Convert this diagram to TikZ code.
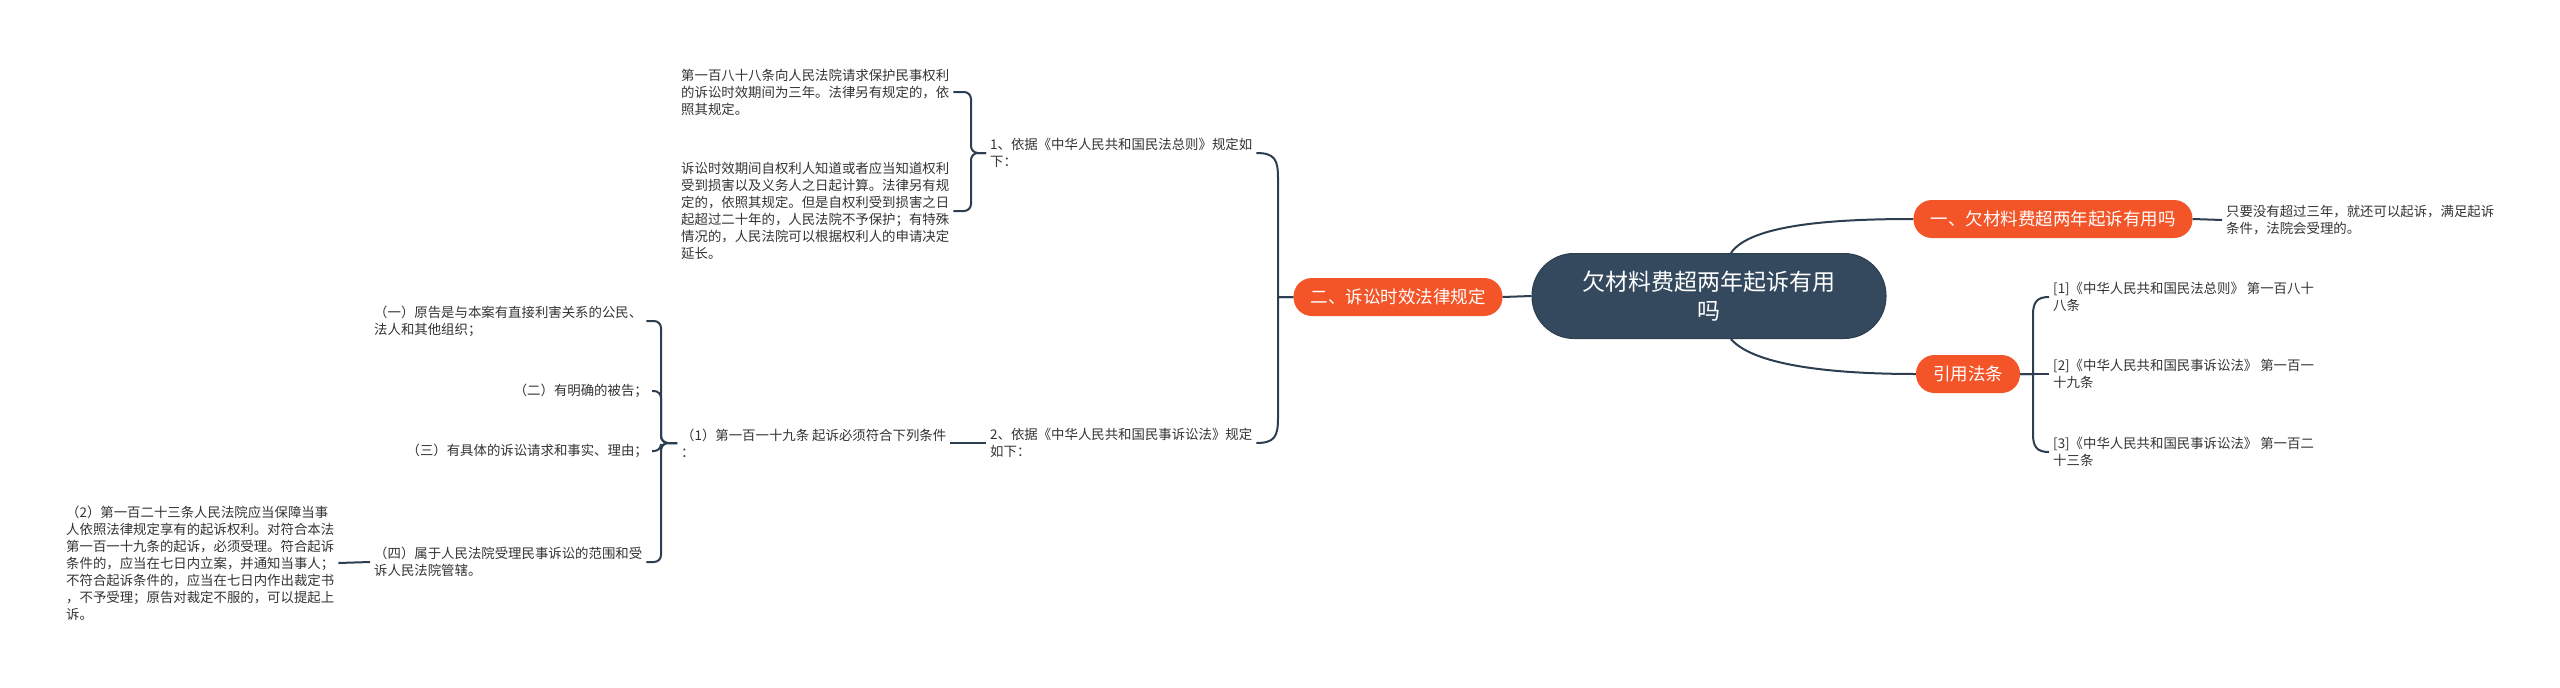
\documentclass[tikz,border=0pt]{standalone}
\usepackage{fontspec}
\setmainfont{Noto Sans CJK SC}
\definecolor{linec}{HTML}{2C3E50}
\definecolor{rootc}{HTML}{34495E}
\definecolor{orangec}{RGB}{243,84,40}
\definecolor{textc}{HTML}{333333}
\tikzset{
  conn/.style={draw=linec, line width=2pt},
  txt/.style={text=textc, align=left, inner xsep=4pt, inner ysep=2pt, font=\fontsize{13.4}{17}\selectfont},
  txtr/.style={txt, align=right},
  obox/.style={fill=orangec, text=white, rounded corners=18.5pt, minimum height=38pt, inner xsep=17pt, font=\fontsize{17.5}{21}\selectfont},
  rootbox/.style={fill=rootc, draw=linec, line width=1pt, text=white, rounded corners=42pt, minimum width=354pt, minimum height=85pt, align=center, font=\fontsize{23}{29}\selectfont}
}
\begin{document}
\begin{tikzpicture}[x=1pt,y=-1pt]
\useasboundingbox (0,0) rectangle (2560,688);
% main nodes
\node[rootbox] (root) at (1709,296) {欠材料费超两年起诉有用\\吗};
\node[obox] (n1) at (2053,219) {一、欠材料费超两年起诉有用吗};
\node[obox] (n2) at (1398,297) {二、诉讼时效法律规定};
\node[obox] (n3) at (1968,374) {引用法条};
% right side
\node[txt, anchor=west] (n1a) at (2222,220) {只要没有超过三年，就还可以起诉，满足起诉\\条件，法院会受理的。};
\node[txt, anchor=west] (r1) at (2049,297) {[1]《中华人民共和国民法总则》 第一百八十\\八条};
\node[txt, anchor=west] (r2) at (2049,374) {[2]《中华人民共和国民事诉讼法》 第一百一\\十九条};
\node[txt, anchor=west] (r3) at (2049,452) {[3]《中华人民共和国民事诉讼法》 第一百二\\十三条};
% left side
\node[txt, anchor=west] (L1) at (986,153) {1、依据《中华人民共和国民法总则》规定如\\下：};
\node[txt, anchor=west] (L2) at (986,443) {2、依据《中华人民共和国民事诉讼法》规定\\如下：};
\node[txt, anchor=west] (A) at (677,92) {第一百八十八条向人民法院请求保护民事权利\\的诉讼时效期间为三年。法律另有规定的，依\\照其规定。};
\node[txt, anchor=west] (B) at (677,211) {诉讼时效期间自权利人知道或者应当知道权利\\受到损害以及义务人之日起计算。法律另有规\\定的，依照其规定。但是自权利受到损害之日\\起超过二十年的，人民法院不予保护；有特殊\\情况的，人民法院可以根据权利人的申请决定\\延长。};
\node[txt, anchor=west] (S1) at (677,443) {（1）第一百一十九条 起诉必须符合下列条件\\：};
\node[txt, anchor=west] (C1) at (370,321) {（一）原告是与本案有直接利害关系的公民、\\法人和其他组织；};
\node[txtr, anchor=east] (C2) at (652,391) {（二）有明确的被告；};
\node[txtr, anchor=east] (C3) at (652,451) {（三）有具体的诉讼请求和事实、理由；};
\node[txt, anchor=west] (C4) at (370,562) {（四）属于人民法院受理民事诉讼的范围和受\\诉人民法院管辖。};
\node[txt, anchor=west] (D) at (62,563) {（2）第一百二十三条人民法院应当保障当事\\人依照法律规定享有的起诉权利。对符合本法\\第一百一十九条的起诉，必须受理。符合起诉\\条件的，应当在七日内立案，并通知当事人；\\不符合起诉条件的，应当在七日内作出裁定书\\，不予受理；原告对裁定不服的，可以提起上\\诉。};
% connectors
\draw[conn] (root.63) .. controls (1750,225) and (1830,219) .. (n1.west);
\draw[conn] (root.-63) .. controls (1755,367) and (1840,374) .. (n3.west);
\draw[conn] (root.west) -- (n2.east);
\draw[conn] (n1.east) -- (n1a.west);
\draw[conn] (n3.east) -- (2033,374) -- (2033,315) .. controls (2033,302) and (2037,297) .. (r1.west);
\draw[conn] (n3.east) -- (r2.west);
\draw[conn] (n3.east) -- (2033,374) -- (2033,434) .. controls (2033,447) and (2037,452) .. (r3.west);
\draw[conn] (n2.west) -- (1278,297) -- (1278,178) .. controls (1278,160) and (1275,153) .. (L1.east);
\draw[conn] (n2.west) -- (1278,297) -- (1278,418) .. controls (1278,436) and (1275,443) .. (L2.east);
\draw[conn, rounded corners=7pt] (L1.west) -- (971,153) |- (A.east);
\draw[conn, rounded corners=7pt] (L1.west) -- (971,153) |- (B.east);
\draw[conn] (L2.west) -- (S1.east);
\draw[conn, rounded corners=7pt] (S1.west) -- (661,443) |- (C1.east);
\draw[conn, rounded corners=7pt] (S1.west) -- (661,443) |- (C2.east);
\draw[conn, rounded corners=7pt] (S1.west) -- (661,443) |- (C3.east);
\draw[conn, rounded corners=7pt] (S1.west) -- (661,443) |- (C4.east);
\draw[conn] (D.east) -- (C4.west);
\end{tikzpicture}
\end{document}
